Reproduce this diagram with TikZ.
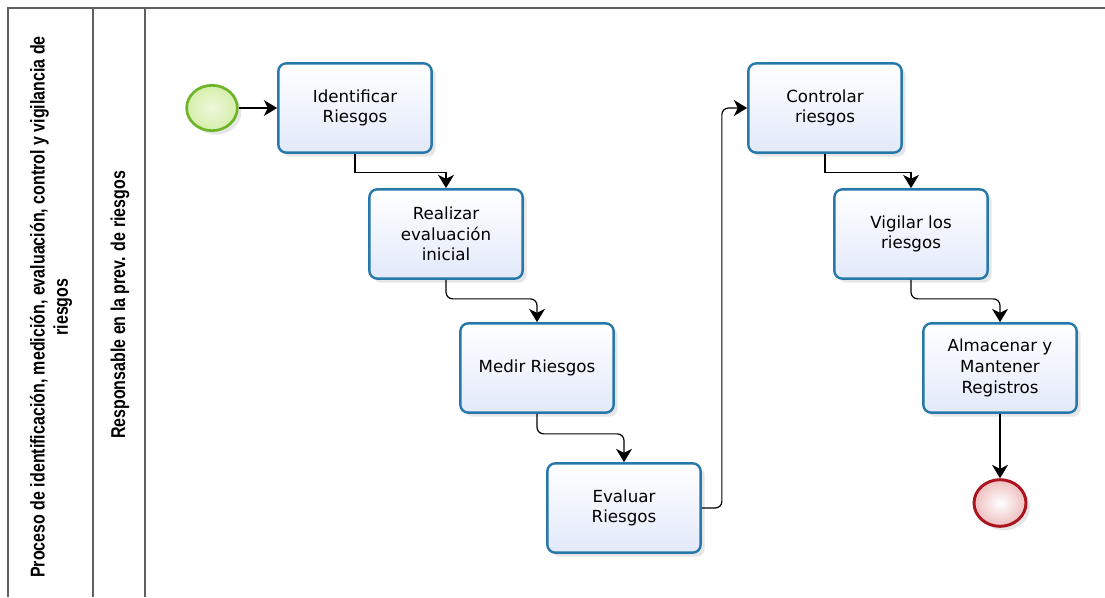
\documentclass[tikz,border=0pt]{standalone}
\usepackage{fontspec}
\setmainfont{DejaVu Sans}
\newfontfamily\lanefont[FakeStretch=0.8]{Liberation Sans}
\usepackage{tikz}
\usetikzlibrary{shapes.geometric, arrows.meta, positioning, shadows}
\definecolor{Borde}{RGB}{38, 120, 170}
\definecolor{Relleno}{RGB}{226, 233, 250}
\definecolor{VerdeB}{RGB}{110, 180, 40}
\definecolor{VerdeR}{RGB}{214, 238, 170}
\definecolor{RojoB}{RGB}{170, 20, 30}
\definecolor{RojoR}{RGB}{238, 190, 190}
\definecolor{Carril}{RGB}{95, 95, 95}

\begin{document}
\begin{tikzpicture}[
        x=0.75pt, y=-0.75pt,
        task/.style={
            rectangle,
            draw=Borde,
            top color=white,
            bottom color=Relleno,
            rounded corners=6pt,
            line width=1.8pt,
            minimum width=115pt,
            minimum height=67pt,
            align=center,
            font=\fontsize{12.5}{15.5}\selectfont,
            drop shadow={shadow xshift=3pt, shadow yshift=-3pt, opacity=0.2}
        },
        startev/.style={
            ellipse,
            draw=VerdeB,
            line width=2pt,
            inner color=VerdeR!40,
            outer color=VerdeR,
            minimum width=38pt,
            minimum height=34pt,
            drop shadow={shadow xshift=3pt, shadow yshift=-3pt, opacity=0.2}
        },
        endev/.style={
            ellipse,
            draw=RojoB,
            line width=2.2pt,
            inner color=white,
            outer color=RojoR,
            minimum width=39pt,
            minimum height=35pt,
            drop shadow={shadow xshift=3pt, shadow yshift=-3pt, opacity=0.2}
        },
        flow/.style={
            -{Stealth[length=10pt, width=12pt, inset=3pt]},
            line width=0.9pt
        },
        carril/.style={
            draw=Carril,
            line width=1.3pt
        },
        lane/.style={
            rotate=90,
            align=center,
            font=\lanefont\bfseries\fontsize{15}{17.5}\selectfont
        }
    ]
        \useasboundingbox (0,0) rectangle (1105,597);

        % Pool and lane
        \draw[carril] (8,597) -- (8,8) -- (1105,8);
        \draw[carril] (93,8) -- (93,597);
        \draw[carril] (145,8) -- (145,597);
        \node[lane] (pool) at (51,307) {Proceso de identificación, medición, evaluación, control y vigilancia de\\riesgos};
        \node[lane] (resp) at (120,305) {Responsable en la prev. de riesgos};

        % Events and tasks
        \node[startev] (inicio) at (212,108) {};
        \node[task] (ident) at (355,108) {Identificar\\Riesgos};
        \node[task] (real) at (446,234) {Realizar\\evaluación\\inicial};
        \node[task] (medir) at (537,368) {Medir Riesgos};
        \node[task] (eval) at (624,508) {Evaluar\\Riesgos};
        \node[task] (contr) at (825,108) {Controlar\\riesgos};
        \node[task] (vigil) at (911,234) {Vigilar los\\riesgos};
        \node[task] (alma) at (1000,368) {Almacenar y\\Mantener\\Registros};
        \node[endev] (fin) at (1000,503) {};

        % Sequence flows
        \draw[flow] (inicio.east) -- (ident.west);
        \draw[flow] (ident.south) -- ++(0,19) -| (real.north);
        \draw[flow, rounded corners=5pt] (real.south) -- ++(0,19) -| (medir.north);
        \draw[flow, rounded corners=5pt] (medir.south) -- ++(0,20) -| (eval.north);
        \draw[flow, rounded corners=5pt] (eval.east) -- ++(20,0) |- (contr.west);
        \draw[flow] (contr.south) -- ++(0,19) -| (vigil.north);
        \draw[flow, rounded corners=5pt] (vigil.south) -- ++(0,19) -| (alma.north);
        \draw[flow] (alma.south) -- (fin.north);
    \end{tikzpicture}
\end{document}
